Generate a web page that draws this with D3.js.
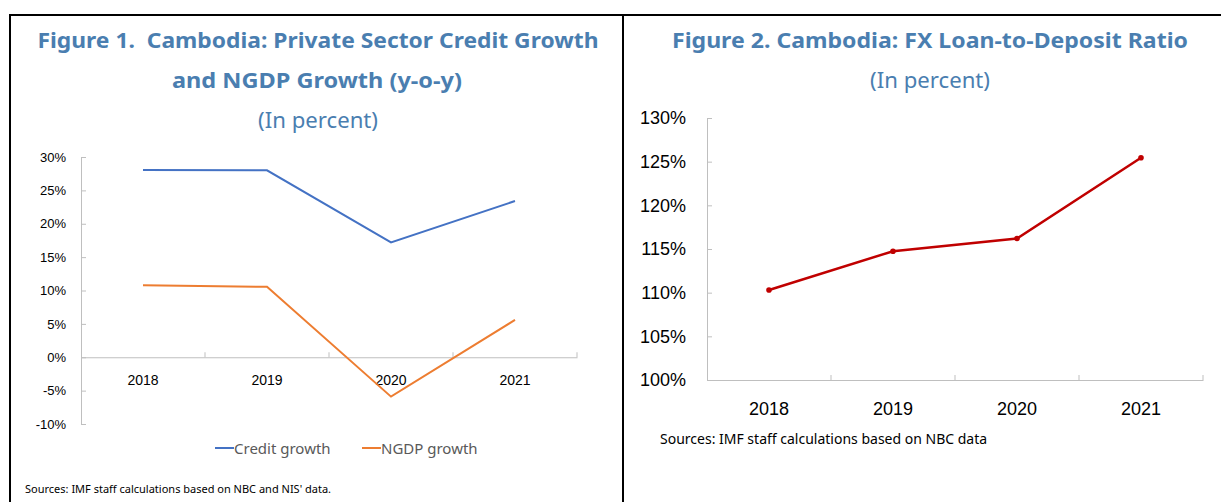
<!DOCTYPE html>
<html>
<head>
<meta charset="utf-8">
<script src="https://cdn.jsdelivr.net/npm/d3@7"></script>
<style>
  body { margin: 0; background: #fff; }
  svg { display: block; font-family: "Noto Sans", "Open Sans", sans-serif; }
  text { white-space: pre; }
  .title { fill: #4a7eb0; font-weight: bold; font-size: 22px; }
  .subtitle { fill: #4a7eb0; font-size: 22px; }
  .axis path, .axis line { stroke: #bfbfbf; }
  .axis text { fill: #000; }
</style>
</head>
<body>
<div id="chart"></div>
<script>
// data
const years = ["2018", "2019", "2020", "2021"];
const creditGrowth = [28.05, 28.0, 17.2, 23.4];
const ngdpGrowth = [10.8, 10.55, -5.9, 5.6];
const fxLtd = [110.3, 114.75, 116.2, 125.45];
const leftTicks = [-10, -5, 0, 5, 10, 15, 20, 25, 30];
const rightTicks = [100, 105, 110, 115, 120, 125, 130];

const W = 1221, H = 502;

const svg = d3.select("#chart").append("svg")
  .attr("width", W)
  .attr("height", H);

// frame lines
svg.append("line").attr("x1", 9).attr("x2", W).attr("y1", 15).attr("y2", 15)
  .attr("stroke", "#000").attr("stroke-width", 2);
svg.append("line").attr("x1", 10).attr("x2", 10).attr("y1", 14).attr("y2", H)
  .attr("stroke", "#000").attr("stroke-width", 2);
svg.append("line").attr("x1", 623).attr("x2", 623).attr("y1", 14).attr("y2", H)
  .attr("stroke", "#000").attr("stroke-width", 2);

function title(txt, cx, y, len, cls) {
  svg.append("text")
    .attr("class", cls)
    .attr("x", cx).attr("y", y)
    .attr("text-anchor", "middle")
    .attr("textLength", len)
    .attr("lengthAdjust", "spacingAndGlyphs")
    .text(txt);
}

// ---------- Figure 1 ----------
title("Figure 1.  Cambodia: Private Sector Credit Growth", 318, 48, 561, "title");
title("and NGDP Growth (y-o-y)", 317, 88, 290, "title");
title("(In percent)", 318, 128, 120, "subtitle");

var x1 = d3.scaleBand()
  .domain(years)
  .range([81, 577]);
var y1 = d3.scaleLinear()
  .domain([-10, 30])
  .range([424, 157]);

svg.append("g")
  .attr("class", "axis")
  .attr("transform", "translate(81,0)")
  .call(d3.axisLeft(y1).tickValues(leftTicks).tickSizeInner(-5).tickSizeOuter(0)
    .tickPadding(15).tickFormat(d => d + "%"))
  .call(g => g.selectAll("text").attr("font-size", 13).attr("font-family", null));

var xa1 = svg.append("g")
  .attr("class", "axis")
  .attr("transform", "translate(0," + y1(0) + ")")
  .call(d3.axisBottom(x1).tickSize(0).tickPadding(18))
  .call(g => g.selectAll("text").attr("font-size", 14).attr("font-family", null));
xa1.selectAll(".bound").data(years).enter().append("line")
  .attr("class", "bound")
  .attr("x1", d => x1(d) + x1.bandwidth()).attr("x2", d => x1(d) + x1.bandwidth())
  .attr("y1", 0).attr("y2", -5);

var line1 = d3.line()
  .x((d, i) => x1(years[i]) + x1.bandwidth() / 2)
  .y(d => y1(d));

svg.append("path").datum(creditGrowth)
  .attr("d", line1).attr("fill", "none")
  .attr("stroke", "#4472c4").attr("stroke-width", 2);
svg.append("path").datum(ngdpGrowth)
  .attr("d", line1).attr("fill", "none")
  .attr("stroke", "#ed7d31").attr("stroke-width", 2);

// legend
var legend = [
  { name: "Credit growth", color: "#4472c4", x: 215 },
  { name: "NGDP growth", color: "#ed7d31", x: 362 }
];
var lg = svg.selectAll(".lg").data(legend).enter().append("g")
  .attr("class", "lg")
  .attr("transform", d => "translate(" + d.x + ",448)");
lg.append("line").attr("x1", 0).attr("x2", 19).attr("y1", 0).attr("y2", 0)
  .attr("stroke", d => d.color).attr("stroke-width", 2);
lg.append("text").attr("x", 19).attr("y", 5.5)
  .attr("font-size", 15).attr("fill", "#595959")
  .text(d => d.name);

svg.append("text")
  .attr("x", 25).attr("y", 493)
  .attr("font-size", 11).attr("fill", "#000")
  .text("Sources: IMF staff calculations based on NBC and NIS' data.");

// ---------- Figure 2 ----------
title("Figure 2. Cambodia: FX Loan-to-Deposit Ratio", 930, 48, 516, "title");
title("(In percent)", 930, 88, 120, "subtitle");

var x2 = d3.scaleBand()
  .domain(years)
  .range([707, 1203]);
var y2 = d3.scaleLinear()
  .domain([100, 130])
  .range([380, 118]);

svg.append("g")
  .attr("class", "axis")
  .attr("transform", "translate(707,0)")
  .call(d3.axisLeft(y2).tickValues(rightTicks).tickSizeInner(-5).tickSizeOuter(0)
    .tickPadding(21).tickFormat(d => d + "%"))
  .call(g => g.selectAll("text").attr("font-size", 18).attr("font-family", null));

var xa2 = svg.append("g")
  .attr("class", "axis")
  .attr("transform", "translate(0," + y2(100) + ")")
  .call(d3.axisBottom(x2).tickSize(0).tickPadding(22))
  .call(g => g.selectAll("text").attr("font-size", 18).attr("font-family", null));
xa2.selectAll(".bound").data(years).enter().append("line")
  .attr("class", "bound")
  .attr("x1", d => x2(d) + x2.bandwidth()).attr("x2", d => x2(d) + x2.bandwidth())
  .attr("y1", 0).attr("y2", -5);

var line2 = d3.line()
  .x((d, i) => x2(years[i]) + x2.bandwidth() / 2)
  .y(d => y2(d));

svg.append("path").datum(fxLtd)
  .attr("d", line2).attr("fill", "none")
  .attr("stroke", "#c00000").attr("stroke-width", 2.5);
svg.selectAll(".dot").data(fxLtd).enter().append("circle")
  .attr("class", "dot")
  .attr("cx", (d, i) => x2(years[i]) + x2.bandwidth() / 2)
  .attr("cy", d => y2(d))
  .attr("r", 2.8)
  .attr("fill", "#c00000");

svg.append("text")
  .attr("x", 660).attr("y", 444)
  .attr("font-size", 14).attr("fill", "#000")
  .text("Sources: IMF staff calculations based on NBC data");
</script>
</body>
</html>
